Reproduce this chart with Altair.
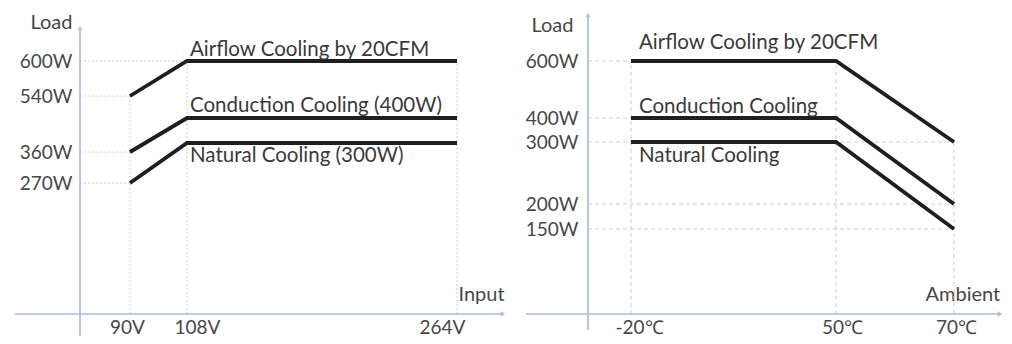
import altair as alt
import pandas as pd

# ---- data ----
input_v = [90, 108, 264]
left_airflow = [540, 600, 600]
left_conduction = [360, 400, 400]
left_natural = [270, 300, 300]
left_names = ["Airflow Cooling by 20CFM", "Conduction Cooling (400W)", "Natural Cooling (300W)"]
left_x_ticks = [90, 108, 264]
left_y_ticks = [270, 360, 540, 600]
left_hguide_loads = [600, 540, 360, 270]
left_hguide_ends = [108, 90, 90, 90]
left_vguide_volts = [90, 108, 264]
left_vguide_tops = [540, 600, 600]

ambient_c = [-20, 50, 70]
right_airflow = [600, 600, 300]
right_conduction = [400, 400, 200]
right_natural = [300, 300, 150]
right_names = ["Airflow Cooling by 20CFM", "Conduction Cooling", "Natural Cooling"]
right_x_ticks = [-20, 50, 70]
right_y_ticks = [150, 200, 300, 400, 600]
right_hguide_loads = [600, 400, 300, 200, 150]
right_hguide_ends = [-20, -20, 70, 70, 70]
right_vguide_temps = [-20, 50, 70]
right_vguide_tops = [600, 600, 300]

FONT = "Lato"
AXIS_COL = "#a9bedf"
LINE_COL = "#1f1f1f"
TEXT_COL = "#3a3a3a"
LAB_COL = "#474747"
GUIDE_COL = "#c9ced8"
W, H = 498, 328
LFS = 19
TTS = 20
TFS = 20.5


def panel(xs, series, names, origin, xticks, yticks, xsuffix, xscale, yscale,
          hg_loads, hg_ends, vg_x, vg_tops, label_dx, label_dys,
          yaxis_px, xtitle, xtitle_x, ytitle_x, ytitle_y, ylabpad,
          axis_lines, arrows, guide_dash, xlab_offsets):
    cond = [{"test": f"datum.value == {v}", "value": o} for v, o in zip(xticks, xlab_offsets)]
    xaxis = alt.Axis(values=xticks, labelExpr=f"datum.value + '{xsuffix}'", domain=False, ticks=False,
                     grid=False, orient="bottom", offset=-19, labelPadding=1, labelFont=FONT,
                     labelFontSize=LFS, labelColor=LAB_COL, labelOverlap=False, labelFlush=False,
                     labelOffset={"condition": cond, "value": 0},
                     title=xtitle, titleFont=FONT, titleFontSize=TTS, titleFontWeight="normal",
                     titleColor=LAB_COL, titleX=xtitle_x, titleY=-23, titleAlign="left",
                     titleBaseline="middle", titleAnchor=None)
    yaxis = alt.Axis(values=yticks, labelExpr="datum.value + 'W'", domain=False, ticks=False,
                     grid=False, orient="left", offset=-yaxis_px, labelPadding=ylabpad, labelFont=FONT,
                     labelFontSize=LFS, labelColor=LAB_COL, labelOverlap=False, labelFlush=False,
                     title="Load", titleFont=FONT, titleFontSize=TTS, titleFontWeight="normal",
                     titleColor=LAB_COL, titleAngle=0, titleX=ytitle_x, titleY=ytitle_y,
                     titleAlign="right", titleBaseline="middle")
    X = lambda f: alt.X(f, type="quantitative", scale=xscale, axis=xaxis)
    Y = lambda f: alt.Y(f, type="quantitative", scale=yscale, axis=yaxis)

    rows = []
    for n, loads in zip(names, series):
        for v, l in zip(xs, loads):
            rows.append({"x": v, "y": l, "series": n})
    lines_df = pd.DataFrame(rows)

    hg = pd.DataFrame({"y": hg_loads, "x0": [origin] * len(hg_loads), "x1": hg_ends})
    vg = pd.DataFrame({"x": vg_x, "y0": [0] * len(vg_x), "y1": vg_tops})

    hguides = alt.Chart(hg).mark_rule(color=GUIDE_COL, strokeWidth=1, strokeDash=guide_dash).encode(
        x=X("x0"), x2="x1", y=Y("y"))
    vguides = alt.Chart(vg).mark_rule(color=GUIDE_COL, strokeWidth=1, strokeDash=guide_dash).encode(
        x=X("x"), y=Y("y0"), y2="y1")

    one = pd.DataFrame({"a": [0]})
    (xa0, xa1, xay), (yax, ya0, ya1) = axis_lines
    xline = alt.Chart(one).mark_rule(color=AXIS_COL, strokeWidth=1.5).encode(
        x=alt.value(xa0), x2=alt.value(xa1), y=alt.value(xay))
    yline = alt.Chart(one).mark_rule(color="#b9c2ea", strokeWidth=2).encode(
        x=alt.value(yax), y=alt.value(ya0), y2=alt.value(ya1))
    (ux, uy), (rx, ry) = arrows
    up = alt.Chart(one).mark_point(shape="triangle-up", filled=True, size=28, color="#b9c2ea", opacity=1).encode(
        x=alt.value(ux), y=alt.value(uy))
    right = alt.Chart(one).mark_point(shape="triangle-right", filled=True, size=28, color=AXIS_COL, opacity=1).encode(
        x=alt.value(rx), y=alt.value(ry))

    lines = alt.Chart(lines_df).mark_line(color=LINE_COL, strokeWidth=3.8).encode(
        x=X("x"), y=Y("y"), detail="series:N")

    layers = [hguides, vguides, xline, yline, up, right, lines]
    for n, loads, dy in zip(names, series, label_dys):
        lab = pd.DataFrame({"x": [xs[0] if origin < 0 else xs[1]], "y": [loads[1] if origin >= 0 else loads[0]], "label": [n]})
        layers.append(alt.Chart(lab).mark_text(align="left", baseline="alphabetic", dx=label_dx, dy=dy,
                                               font=FONT, fontSize=TFS, color=TEXT_COL).encode(
            x=X("x"), y=Y("y"), text="label:N"))
    return alt.layer(*layers).properties(width=W, height=H)


left_x_scale = alt.Scale(domain=[0, 90, 108, 264], range=[72, 122, 179, 449], zero=False, nice=False)
left_y_scale = alt.Scale(domain=[0, 270, 300, 360, 400, 540, 600],
                         range=[306, 175, 135, 144, 110, 88, 53], zero=False, nice=False)
right_x_scale = alt.Scale(domain=[-40, -20, 50, 70], range=[82, 125, 330, 448], zero=False, nice=False)
right_y_scale = alt.Scale(domain=[0, 150, 200, 300, 400, 600],
                          range=[306, 221, 196, 134, 110, 53], zero=False, nice=False)

left = panel(input_v, [left_airflow, left_conduction, left_natural], left_names, 0,
             left_x_ticks, left_y_ticks, "V", left_x_scale, left_y_scale,
             left_hguide_loads, left_hguide_ends, left_vguide_volts, left_vguide_tops,
             3, [-5, -6, 19], 72, "Input", 450, -8, 14, 8,
             ((7, 495, 306), (72, 20, 328)), ((72, 20), (495, 306)), [2, 2], [-3, 10, -15])

right = panel(ambient_c, [right_airflow, right_conduction, right_natural], right_names, -40,
              right_x_ticks, right_y_ticks, "℃", right_x_scale, right_y_scale,
              right_hguide_loads, right_hguide_ends, right_vguide_temps, right_vguide_tops,
              8, [-12, -5, 20], 82, "Ambient", 419, -15, 17, 10,
              ((20, 494, 306), (82, 7, 322)), ((82, 7), (494, 306)), [4, 3], [8, 6, 2])

chart = alt.hconcat(left, right, spacing=0).properties(padding=0).configure_view(stroke=None).configure_axis(
    titleFontSize=TTS, titleFont=FONT, titleFontWeight="normal", titleColor=LAB_COL)

chart.save("out.html", embed_options={"renderer": "svg", "actions": False})
